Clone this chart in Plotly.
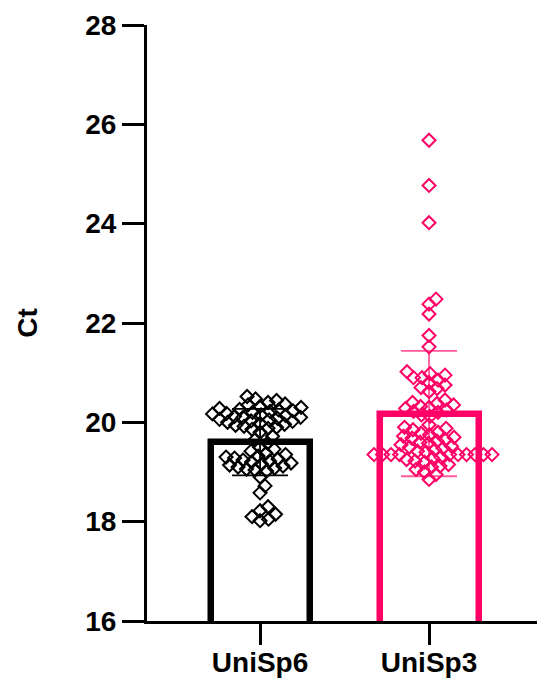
import numpy as np
import plotly.graph_objects as go

categories = ["UniSp6", "UniSp3"]
colors = ["#000000", "#FF0066"]
err_colors = ["#000000", "rgba(255,0,102,0.65)"]

unisp6_ct = [20.52, 20.47, 20.44, 20.4, 20.37, 20.35, 20.32, 20.3, 20.28, 20.26, 20.25, 20.23,
             20.22, 20.2, 20.18, 20.17, 20.15, 20.14, 20.12, 20.1, 20.1, 20.08, 20.06, 20.05,
             20.03, 20.02, 20.0, 19.98, 19.96, 19.94, 19.92, 19.9, 19.88, 19.86,
             19.8, 19.72, 19.65, 19.58, 19.5,
             19.46, 19.42, 19.38, 19.35, 19.32, 19.3, 19.28, 19.26, 19.24, 19.22, 19.2, 19.18,
             19.16, 19.14, 19.12, 19.1, 19.08, 19.06, 19.04, 19.02,
             18.9, 18.72, 18.58,
             18.3, 18.22, 18.15, 18.1, 18.05, 18.02]

unisp3_ct = [25.68, 24.77, 24.02, 22.48, 22.38, 22.18, 21.75, 21.52,
             20.95, 21.02, 20.98, 20.9, 20.85, 20.8, 20.75, 20.7, 20.68, 20.62, 20.9,
             20.45, 20.4, 20.35, 20.3, 20.28, 20.25, 20.2, 20.15, 20.12, 20.38, 20.32, 20.22,
             19.95, 19.9, 19.85, 19.8, 19.75, 19.7, 19.65, 19.6, 19.55, 19.5, 19.62, 19.72,
             19.88, 19.78, 19.68, 19.58, 19.52, 19.45, 19.48, 19.42,
             19.35, 19.35, 19.35, 19.35, 19.35, 19.35, 19.35, 19.35, 19.35, 19.35,
             19.4, 19.3, 19.28, 19.25,
             19.2, 19.15, 19.1, 19.05, 19.0, 19.22, 19.12,
             18.85, 18.95]

groups = [unisp6_ct, unisp3_ct]

W, H = 537, 679
ML, MR, MT, MB = 147, 0, 25, 58
Y_RANGE = [16, 28]
X_RANGE = [-0.669, 1.639]
px_per_y = (H - MT - MB) / (Y_RANGE[1] - Y_RANGE[0])
px_per_x = (W - ML - MR) / (X_RANGE[1] - X_RANGE[0])


def beeswarm(values, diam=8.5):
    order = np.argsort(values)
    placed = []
    offsets = np.zeros(len(values))
    for i in order:
        y = values[i] * px_per_y
        step = 0
        while True:
            found = None
            for cand in ([0.0] if step == 0 else [step, -step]):
                if all((cand - px) ** 2 + (y - py) ** 2 >= diam ** 2 for px, py in placed):
                    found = cand
                    break
            if found is not None:
                break
            step += 0.5
        placed.append((found, y))
        offsets[i] = found / px_per_x
    return offsets


fig = go.Figure()
means = [float(np.mean(g)) for g in groups]
sds = [float(np.std(g, ddof=1)) for g in groups]

for k, cat in enumerate(categories):
    fig.add_trace(go.Bar(
        x=[k], y=[means[k]], width=0.586,
        marker=dict(color="rgba(255,255,255,0)", line=dict(color=colors[k], width=6.5)),
        error_y=dict(type="data", array=[sds[k]], color=err_colors[k], thickness=1.8, width=28),
        showlegend=False,
    ))

for k, cat in enumerate(categories):
    vals = np.array(groups[k], dtype=float)
    offs = beeswarm(vals)
    fig.add_trace(go.Scatter(
        x=k + offs, y=vals, mode="markers",
        marker=dict(symbol="diamond-open", size=10, color=colors[k], line=dict(width=2, color=colors[k])),
        showlegend=False,
    ))

font = dict(family="Liberation Sans, Arial, sans-serif", size=28, color="#000000")

fig.update_layout(
    width=W, height=H,
    margin=dict(l=ML, r=MR, t=MT, b=MB, pad=0, autoexpand=False),
    paper_bgcolor="white", plot_bgcolor="white",
    font=font,
    bargap=0,
    xaxis=dict(
        range=X_RANGE, tickvals=list(range(len(categories))), ticktext=["<b>%s</b>" % c for c in categories],
        showline=True, linecolor="black", linewidth=3, ticks="outside", ticklen=21, tickwidth=2.5,
        tickcolor="black", showgrid=False, zeroline=False, tickfont=dict(size=28), automargin=False,
        ticklabelstandoff=-7,
    ),
    yaxis=dict(
        range=Y_RANGE, tickvals=[16, 18, 20, 22, 24, 26, 28],
        ticktext=["<b>%d</b>" % v for v in [16, 18, 20, 22, 24, 26, 28]],
        showline=True, linecolor="black", linewidth=3, ticks="outside", ticklen=22, tickwidth=3,
        tickcolor="black", showgrid=False, zeroline=False, tickfont=dict(size=28), automargin=False,
        title=dict(text="<b>Ct</b>", font=dict(size=28), standoff=40),
    ),
)

fig.write_html("out.html")
